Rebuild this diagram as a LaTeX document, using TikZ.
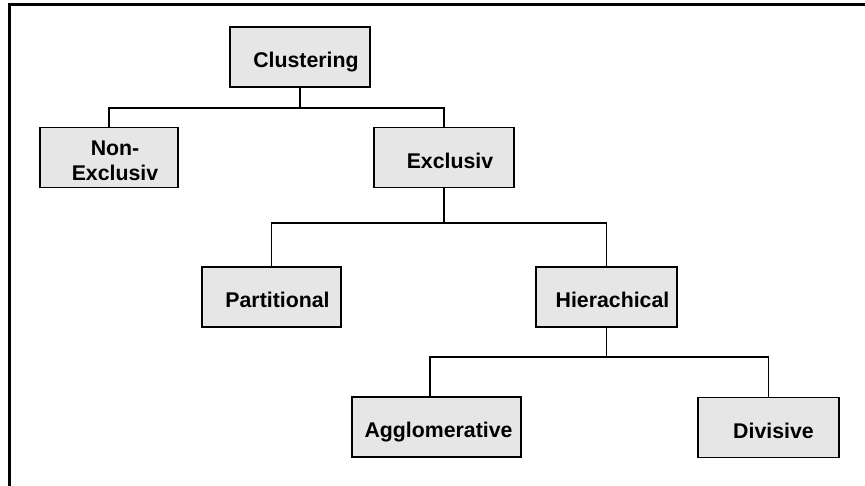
\documentclass[tikz,border=0pt]{standalone}
\usepackage{fontspec}
\setmainfont{Liberation Sans}
\usetikzlibrary{calc}
\definecolor{boxgray}{RGB}{230,230,230}
\begin{document}
\begin{tikzpicture}[x=1pt,y=-1pt,
  box/.style={draw=black,fill=boxgray,line width=1.8pt,minimum height=60pt,inner sep=0pt,rectangle},
  lbl/.style={font=\fontsize{21.3}{25}\selectfont\bfseries,inner sep=0pt,text height=15pt,text depth=0pt,align=center},
  conn/.style={draw=black,line width=1.8pt}]
\useasboundingbox (0,0) rectangle (865,485);
\draw[line width=3pt] (9.5,4.5) rectangle (880,500);
% boxes
\node[box,minimum width=140pt] (clu) at (300,57) {};
\node[box,minimum width=138pt] (nonex) at (109,157.5) {};
\node[box,minimum width=140pt] (ex) at (444,157.5) {};
\node[box,minimum width=139pt] (part) at (271.5,297) {};
\node[box,minimum width=141pt] (hier) at (606.5,297) {};
\node[box,minimum width=169pt] (agg) at (436.5,427) {};
\node[box,minimum width=141pt] (div) at (768.5,427.5) {};
% labels
\node[lbl] (tclu) at ($(clu.center)+(6,3)$) {Clustering};
\node[font=\fontsize{21.3}{25}\selectfont\bfseries,inner sep=0pt,align=center] (tnonex) at ($(nonex.center)+(6,3.5)$) {Non-\\Exclusiv};
\node[lbl] (tex) at ($(ex.center)+(6,3)$) {Exclusiv};
\node[lbl] (tpart) at ($(part.center)+(6,3)$) {Partitional};
\node[lbl] (thier) at ($(hier.center)+(6,3)$) {Hierachical};
\node[lbl] (tagg) at ($(agg.center)+(2,3)$) {Agglomerative};
\node[lbl] (tdiv) at ($(div.center)+(5,3)$) {Divisive};
% connectors
\draw[conn] (clu.south) -- (clu.south |- 0,108) -| (nonex.north);
\draw[conn] (clu.south) -- (clu.south |- 0,108) -| (ex.north);
\draw[conn] (ex.south) -- (ex.south |- 0,223) -| (part.north);
\draw[conn] (ex.south) -- (ex.south |- 0,223) -| (hier.north);
\draw[conn] (hier.south) -- (hier.south |- 0,357) -| (agg.north -| 430,0);
\draw[conn] (hier.south) -- (hier.south |- 0,357) -| (div.north);
\end{tikzpicture}
\end{document}
